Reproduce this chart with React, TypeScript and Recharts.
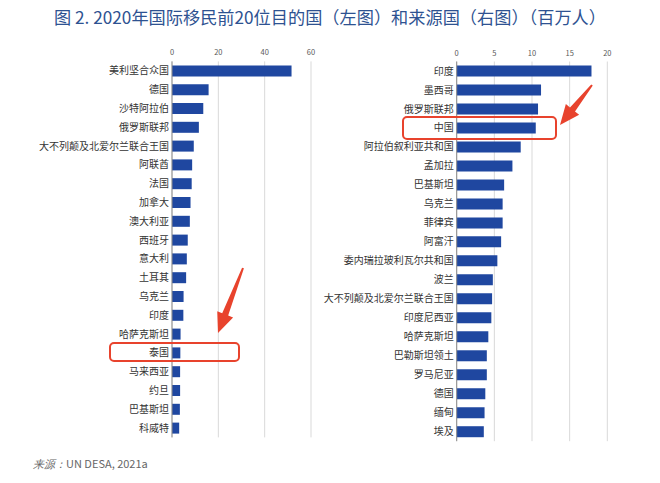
import { BarChart, Bar, XAxis, YAxis, CartesianGrid } from "recharts";

const destNames = [
  "美利坚合众国", "德国", "沙特阿拉伯", "俄罗斯联邦", "大不列颠及北爱尔兰联合王国",
  "阿联酋", "法国", "加拿大", "澳大利亚", "西班牙",
  "意大利", "土耳其", "乌克兰", "印度", "哈萨克斯坦",
  "泰国", "马来西亚", "约旦", "巴基斯坦", "科威特",
];
const destValues = [51.6, 15.8, 13.5, 11.6, 9.4, 8.7, 8.5, 8.0, 7.7, 6.8, 6.4, 6.1, 5.0, 4.9, 3.7, 3.6, 3.5, 3.5, 3.4, 3.1];
const destTicks = [0, 20, 40, 60];

const originNames = [
  "印度", "墨西哥", "俄罗斯联邦", "中国", "阿拉伯叙利亚共和国",
  "孟加拉", "巴基斯坦", "乌克兰", "菲律宾", "阿富汗",
  "委内瑞拉玻利瓦尔共和国", "波兰", "大不列颠及北爱尔兰联合王国", "印度尼西亚", "哈萨克斯坦",
  "巴勒斯坦领土", "罗马尼亚", "德国", "缅甸", "埃及",
];
const originValues = [17.9, 11.2, 10.8, 10.5, 8.5, 7.4, 6.3, 6.1, 6.1, 5.9, 5.4, 4.8, 4.7, 4.6, 4.2, 4.0, 4.0, 3.8, 3.7, 3.6];
const originTicks = [0, 5, 10, 15, 20];

const BAR = "#1F47A0";
const RED = "#E8432D";
const FONT = "'Noto Sans CJK SC', 'Noto Sans', sans-serif";

const destData = destNames.map((name, i) => ({ name, value: destValues[i] }));
const originData = originNames.map((name, i) => ({ name, value: originValues[i] }));

function arrowPoints(tx: number, ty: number, hx: number, hy: number) {
  // tapered shaft from tail (tx,ty) to head tip (hx,hy)
  const dx = hx - tx, dy = hy - ty;
  const len = Math.hypot(dx, dy);
  const ux = dx / len, uy = dy / len;
  const px = -uy, py = ux;
  const headLen = 20, headW = 8.5, tailW = 1, neckW = 3.2;
  const bx = hx - ux * headLen, by = hy - uy * headLen;
  const pts = [
    [tx + px * tailW, ty + py * tailW],
    [bx + px * neckW, by + py * neckW],
    [bx + px * headW, by + py * headW],
    [hx, hy],
    [bx - px * headW, by - py * headW],
    [bx - px * neckW, by - py * neckW],
    [tx - px * tailW, ty - py * tailW],
  ];
  return pts.map((p) => p.join(",")).join(" ");
}

function Panel({ data, ticks, max, width, yWidth, right, top, bottom }: {
  data: { name: string; value: number }[];
  ticks: number[];
  max: number;
  width: number;
  yWidth: number;
  right: number;
  top: number;
  bottom: number;
}) {
  return (
    <BarChart
      width={width}
      height={460}
      data={data}
      layout="vertical"
      margin={{ top, right, bottom, left: 0 }}
    >
      <CartesianGrid horizontal={false} stroke="#D9D9D9" />
      <XAxis
        type="number"
        orientation="top"
        domain={[0, max]}
        ticks={ticks}
        height={20}
        axisLine={false}
        tickLine={false}
        tickSize={4}
        tick={{ fontSize: 7.5, fill: "#595959", fontFamily: FONT }}
      />
      <YAxis
        type="category"
        dataKey="name"
        width={yWidth}
        interval={0}
        tickLine={false}
        tickSize={3}
        tickMargin={0}
        axisLine={{ stroke: "#8C8C8C" }}
        tick={{ fontSize: 10, fill: "#333333", fontFamily: FONT }}
      />
      <Bar dataKey="value" fill={BAR} barSize={11} isAnimationActive={false} />
    </BarChart>
  );
}

export default function App() {
  return (
    <div style={{ position: "fixed", left: 0, top: 0, width: 660, height: 483, background: "#fff", fontFamily: FONT }}>
      <div style={{ position: "absolute", left: 0, top: 4, width: 660, textAlign: "center", fontSize: 17.2, color: "#2E5291" }}>
        图 2. 2020年国际移民前20位目的国（左图）和来源国（右图）（百万人）
      </div>
      <div style={{ position: "absolute", left: 0, top: 0 }}>
        <Panel data={destData} ticks={destTicks} max={60} width={330} yWidth={172} right={19} top={41.4} bottom={22.6} />
      </div>
      <div style={{ position: "absolute", left: 300, top: 0 }}>
        <Panel data={originData} ticks={originTicks} max={20} width={360} yWidth={156.7} right={52.7} top={41.5} bottom={18.8} />
      </div>
      <svg width={660} height={483} style={{ position: "absolute", left: 0, top: 0, pointerEvents: "none" }}>
        <rect x={110} y={343} width={129} height={18} rx={4} fill="none" stroke={RED} strokeWidth={2} />
        <rect x={403} y={117} width={153} height={22} rx={4} fill="none" stroke={RED} strokeWidth={2} />
        <polygon points={arrowPoints(243, 268, 218, 333)} fill={RED} />
        <polygon points={arrowPoints(592, 85, 560, 125)} fill={RED} />
      </svg>
      <div style={{ position: "absolute", left: 33, top: 455, fontSize: 11, color: "#666" }}>
        <span style={{ fontStyle: "italic", fontFamily: "'Liberation Serif', serif" }}>来源：</span>UN DESA, 2021a
      </div>
    </div>
  );
}
